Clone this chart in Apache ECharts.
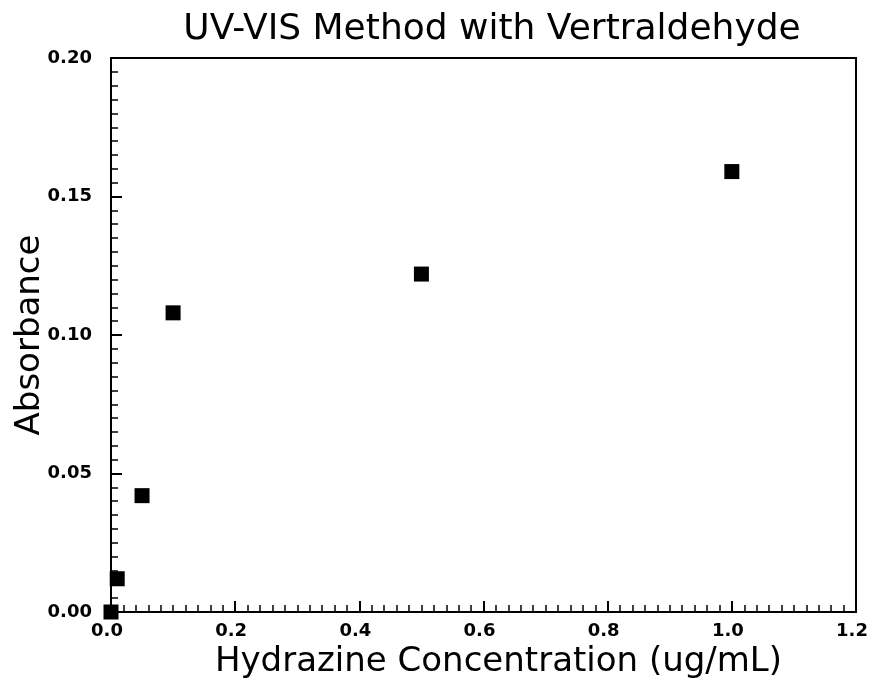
<!DOCTYPE html>
<html>
<head>
<meta charset="utf-8">
<script src="https://cdn.jsdelivr.net/npm/echarts@6/dist/echarts.min.js"></script>
<style>
  html, body { margin: 0; padding: 0; background: #fff; }
  #chart { width: 870px; height: 678px; }
</style>
</head>
<body>
<div id="chart"></div>
<script>
// hydrazine concentration (ug/mL) vs absorbance
const concentration = [0.0, 0.01, 0.05, 0.10, 0.50, 1.00];
const absorbance = [0.000, 0.012, 0.042, 0.108, 0.122, 0.159];

const chartTitle = 'UV-VIS Method with Vertraldehyde';
const xName = 'Hydrazine Concentration (ug/mL)';
const yName = 'Absorbance';

const points = concentration.map((c, i) => [c, absorbance[i]]);

const font = 'DejaVu Sans';
const myChart = echarts.init(document.getElementById('chart'));

const axisCommon = {
  axisLine: { show: true, onZero: false, lineStyle: { color: '#000', width: 2 } },
  axisTick: { show: true, inside: true, length: 11, lineStyle: { color: '#000', width: 2 } },
  minorTick: { show: true, splitNumber: 10, length: 7, lineStyle: { color: '#000', width: 1.5 } },
  splitLine: { show: false },
  minorSplitLine: { show: false },
  nameMoveOverlap: false,
};

myChart.setOption({
  animation: false,
  backgroundColor: '#fff',
  title: {
    text: chartTitle,
    left: 487,
    top: 7,
    textAlign: 'center',
    textStyle: { fontFamily: font, fontSize: 36, fontWeight: 'normal', color: '#000' },
  },
  grid: {
    left: 111,
    right: 14,
    top: 58,
    bottom: 66,
    outerBoundsMode: 'none',
    show: true,
    borderColor: '#000',
    borderWidth: 2,
  },
  xAxis: Object.assign({}, axisCommon, {
    type: 'value',
    min: 0,
    max: 1.2,
    interval: 0.2,
    name: xName,
    nameLocation: 'middle',
    nameGap: 33,
    nameTextStyle: { fontFamily: font, fontSize: 34, color: '#000', padding: [0, 0, 0, 30] },
    axisLabel: {
      margin: 10,
      fontFamily: font,
      fontWeight: 'bold',
      fontSize: 18,
      color: '#000',
      padding: [0, 8, 0, 0],
      formatter: (v) => v.toFixed(1),
    },
  }),
  yAxis: Object.assign({}, axisCommon, {
    type: 'value',
    min: 0,
    max: 0.2,
    interval: 0.05,
    name: yName,
    nameLocation: 'middle',
    nameGap: 64,
    nameTextStyle: { fontFamily: font, fontSize: 34, color: '#000' },
    axisLabel: {
      margin: 19,
      fontFamily: font,
      fontWeight: 'bold',
      fontSize: 18,
      color: '#000',
      formatter: (v) => v.toFixed(2),
    },
  }),
  series: [
    {
      type: 'scatter',
      data: points,
      symbol: 'rect',
      symbolSize: 15,
      itemStyle: { color: '#000', opacity: 1 },
      clip: false,
    },
  ],
});
</script>
</body>
</html>
